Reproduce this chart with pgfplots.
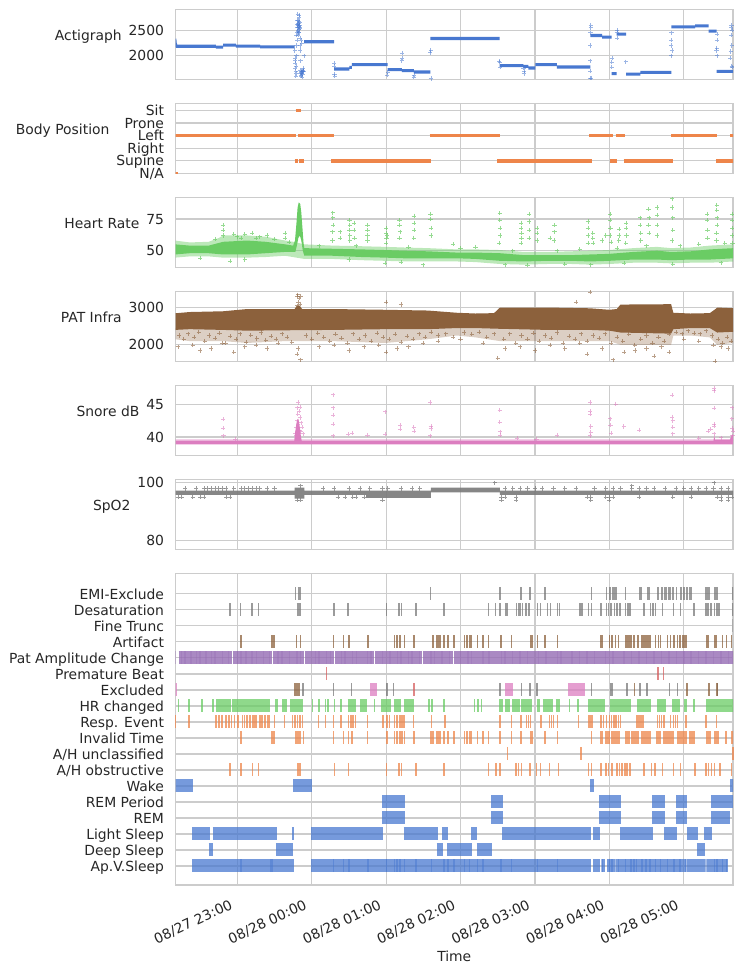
\documentclass[border=0pt]{standalone}
\usepackage{fontspec}
\setmainfont{DejaVu Sans}
\usepackage{pgfplots}
\pgfplotsset{compat=1.18}
\definecolor{cblue}{HTML}{4878D0}
\definecolor{corange}{HTML}{EE854A}
\definecolor{cgreen}{HTML}{6ACC64}
\definecolor{cred}{HTML}{D65F5F}
\definecolor{cpurple}{HTML}{956CB4}
\definecolor{cbrown}{HTML}{8C613C}
\definecolor{cpink}{HTML}{DC7EC0}
\definecolor{cgray}{HTML}{797979}
\definecolor{txt}{HTML}{262626}
\definecolor{gridc}{HTML}{CCCCCC}
\newcommand{\fs}{\fontsize{10}{12}\selectfont}
\pgfplotsset{
 panel/.style={scale only axis, width=401.4pt, height=50.76pt, anchor=south west,
   xmin=-1.831, xmax=5.662, xtick={-1,0,1,2,3,4,5}, xticklabels=\empty,
   grid=major, major grid style={draw=gridc, line width=0.8pt},
   axis line style={draw=gridc, line width=1pt},
   major tick length=0pt, tick style={draw=none},
   tick label style={font=\fs, text=txt},
   yticklabel style={anchor=east, inner sep=0pt, xshift=-8.1pt, text height=0.73em, text depth=0pt},
   every axis y label/.style={at={(axis description cs:0,0.5)}, anchor=south east, inner sep=0pt, text height=0.76em, text depth=0.24em, font=\fs, text=txt},
   every axis x label/.style={at={(axis description cs:0.5,0)}, anchor=center, yshift=-51.5pt, font=\fs, text=txt},
   unbounded coords=jump,
   /pgf/number format/assume math mode=true, /pgf/number format/1000 sep={}},
 lvl/.style={line width=2.2pt, mark=none},
 pts/.style={only marks, mark=+, mark size=1.5pt, mark options={line width=0.4pt}},
 blk/.style={line width=9.4pt, mark=none, opacity=0.75},
 thn/.style={only marks, mark=|, mark size=4.7pt, mark options={line width=1.1pt}, opacity=0.75},
}
\begin{document}
\begin{tikzpicture}
\useasboundingbox (0,0) rectangle (536.4pt,700.56pt);
% ---------------- Actigraph
\begin{axis}[panel, at={(126.36pt,643.1pt)}, ymin=1525, ymax=2910, ytick={2000,2500}, ylabel={Actigraph}, ylabel style={xshift=-38.5pt}]
\addplot[lvl, cblue] coordinates {(-1.84,2330) (-1.835,2250) (-1.825,2195) (-1.815,2184) (-1.289,2184) (0,nan)
(-1.289,2165) (-1.192,2165) (0,nan) (-1.192,2205) (-1.019,2205) (0,nan) (-1.019,2185) (-0.692,2185) (0,nan)
(-0.692,2170) (-0.231,2170) (0,nan) (-0.103,2272) (0.301,2272) (0,nan) (0.301,1737) (0.506,1737) (0,nan)
(0.506,1770) (0.539,1770) (0,nan) (0.539,1822) (1.019,1822) (0,nan) (1.019,1724) (1.212,1724) (0,nan)
(1.212,1704) (1.372,1704) (0,nan) (1.372,1678) (1.596,1678) (0,nan) (1.596,2336) (2.526,2336) (0,nan)
(2.526,1803) (2.846,1803) (0,nan) (2.846,1789) (2.910,1789) (0,nan) (2.910,1757) (3.007,1757) (0,nan)
(3.007,1822) (3.295,1822) (0,nan) (3.295,1776) (3.744,1776) (0,nan) (3.744,2395) (3.904,2395) (0,nan)
(3.904,2362) (4.032,2362) (0,nan) (4.032,1645) (4.097,1645) (0,nan) (4.097,2421) (4.225,2421) (0,nan)
(4.225,1638) (4.417,1638) (0,nan) (4.417,1671) (4.834,1671) (0,nan) (4.834,2566) (5.154,2566) (0,nan)
(5.154,2586) (5.334,2586) (0,nan) (5.334,2480) (5.443,2480) (0,nan) (5.443,1691) (5.674,1691)};
\addplot[pts, cblue, opacity=0.55] coordinates {(-0.228,2100) (-0.226,1950) (-0.222,1850) (-0.22,1760) (-0.216,1700) (-0.212,1650) (-0.208,1800) (-0.204,2000) (-0.2,2300) (-0.198,2450) (-0.194,2550) (-0.19,2600) (-0.186,2620) (-0.184,2500) (-0.18,2560) (-0.178,2640) (-0.176,2580) (-0.174,2520) (-0.172,2600) (-0.17,2680) (-0.168,2800) (-0.166,2760) (-0.164,2650) (-0.162,2600) (-0.16,2540) (-0.158,2200) (-0.155,2100) (-0.152,1900) (-0.15,1720) (-0.146,1680) (-0.142,1600) (-0.138,1700) (-0.134,2250) (-0.13,1650) (-0.126,1580) (-0.122,1700) (-0.118,1690) (-0.114,1720) (-0.11,1700) (-0.106,2000) (-0.196,2700) (-0.19,2820) (-0.17,2450) (-0.16,2350) (-0.14,2300) (-0.12,1750) (-0.21,2400) (-0.205,2200) (-0.185,2700) (-0.175,2450) (-0.18,2400) (-0.15,1650) (-0.145,1620) (-0.135,1660) (-0.125,1640) (-0.215,1600) (-0.22,1900) (-0.165,2550) (-0.19,2480) (-0.195,2620)
(-1.838,2400) (-1.838,1950) (-1.836,2050) (-1.834,2300) (0.300,1850) (0.302,1800) (0.305,1640) (0.308,1600) (1.015,1620) (1.02,1680) (1.21,1900) (1.212,2050) (1.215,1950) (1.37,1580) (1.375,1620) (1.595,2060) (1.598,2100) (1.6,1550) (2.52,1890) (2.525,1870) (2.53,1780) (2.845,1760) (2.85,1700) (2.85,1650) (3.74,1560) (3.742,1700) (3.744,1900) (3.745,2200) (3.746,2450) (3.748,2550) (3.75,2600) (3.755,1560) (4.03,1870) (4.032,1780) (4.035,1950) (4.1,2500) (4.1,2460) (4.102,2340) (4.22,1880) (4.83,2000) (4.832,2200) (4.834,2300) (4.836,2450) (4.84,2100) (5.44,2100) (5.442,2150) (5.444,2300) (5.446,2420) (5.45,2000) (5.62,1950) (5.63,2080) (5.635,2400) (5.64,2550) (5.642,2600) (5.645,1800) (5.644,2200) (5.65,2500) (5.648,1780)};
\end{axis}
% ---------------- Body Position
\begin{axis}[panel, at={(126.36pt,575.42pt)}, ymin=-0.02, ymax=5.56, ytick={0,1,2,3,4,5}, yticklabels={N/A,Supine,Right,Left,Prone,Sit}, ylabel={Body Position}, ylabel style={xshift=-47.4pt}]
\addplot[line width=2.6pt, corange] coordinates {(-1.84,3) (-0.218,3) (0,nan) (-0.186,3) (0.301,3) (0,nan) (1.583,3) (2.526,3) (0,nan) (3.731,3) (4.045,3) (0,nan) (4.084,3) (4.212,3) (0,nan) (4.834,3) (5.443,3) (0,nan) (5.622,3) (5.674,3)};
\addplot[line width=2.6pt, corange] coordinates {(-0.218,5) (-0.147,5)};
\addplot[line width=2.6pt, corange] coordinates {(-0.231,1) (-0.186,1) (0,nan) (-0.173,1) (-0.103,1) (0,nan) (0.263,1) (1.609,1) (0,nan) (2.494,1) (3.763,1) (0,nan) (4.013,1) (4.109,1) (0,nan) (4.193,1) (4.853,1) (0,nan) (5.430,1) (5.674,1)};
\addplot[line width=2.6pt, corange] coordinates {(-1.84,0) (-1.80,0)};
\end{axis}
% ---------------- Heart Rate
\begin{axis}[panel, at={(126.36pt,507.74pt)}, ymin=36.5, ymax=92.1, ytick={50,75}, ylabel={Heart Rate}, ylabel style={xshift=-25.8pt}]
\addplot[fill=cgreen, draw=none, fill opacity=0.45] coordinates {(-1.84,58) (-1.64,56.5) (-1.385,57) (-1.25,60) (-1.19,62) (-0.87,62) (-0.62,61) (-0.36,58) (-0.25,57) (-0.10,55) (0.28,54) (0.67,53.5) (0.99,53) (1.24,52.5) (1.56,52) (1.95,51) (2.2,51) (2.53,50.5) (2.85,49) (3.17,49) (3.49,49.5) (3.74,50) (4.0,50.5) (4.32,52) (4.64,53) (4.83,52) (5.09,52.5) (5.35,54) (5.674,55)
(5.674,41.5) (5.35,40.5) (5.09,40.5) (4.83,40) (4.64,40.5) (4.32,40.5) (4.0,39.5) (3.74,39) (3.49,39.5) (3.17,39.5) (2.85,39) (2.53,39.5) (2.2,41) (1.95,41.5) (1.56,41.5) (1.24,41.5) (0.99,42) (0.67,42.5) (0.28,43.5) (-0.10,43.5) (-0.36,46) (-0.62,45) (-0.87,44.5) (-1.19,44.5) (-1.385,45.5) (-1.64,45.5) (-1.84,44.5)} -- cycle;
\addplot[fill=cgreen, draw=none] coordinates {(-1.84,55) (-1.64,54) (-1.385,54) (-1.19,57) (-0.87,58) (-0.62,57) (-0.36,55) (-0.25,54) (-0.225,58) (-0.205,72) (-0.19,84) (-0.175,88) (-0.155,87) (-0.14,80) (-0.125,68) (-0.11,56) (-0.10,52) (0.28,51.5) (0.67,51) (0.99,50.5) (1.24,50) (1.56,49.5) (1.95,48.5) (2.2,48.5) (2.53,48) (2.85,46.5) (3.17,46.5) (3.49,46.5) (3.74,47) (4.0,47.5) (4.32,49) (4.64,50) (4.83,49) (5.09,49.5) (5.35,51) (5.674,52)
(5.674,44) (5.35,43) (5.09,43) (4.83,42.5) (4.64,43) (4.32,43) (4.0,42) (3.74,41.5) (3.49,42) (3.17,42) (2.85,41.5) (2.53,42) (2.2,43.5) (1.95,44) (1.56,44) (1.24,44) (0.99,44.5) (0.67,45) (0.28,46) (-0.10,46) (-0.12,50) (-0.14,58) (-0.16,62) (-0.18,60) (-0.20,54) (-0.22,49) (-0.36,49) (-0.62,48) (-0.87,47) (-1.19,47) (-1.385,48) (-1.64,48) (-1.84,47)} -- cycle;
\addplot[pts, cgreen, opacity=0.7] coordinates {(-1.84,63) (-1.84,58) (-1.192,70) (-1.192,66) (-1.19,62) (-1.0,61) (-0.9,63) (-0.75,60) (-0.6,62) (-0.359,64) (-0.359,60)
(0.282,80) (0.282,76) (0.285,70) (0.28,65) (0.28,58) (0.378,65) (0.378,60) (0.507,74) (0.51,70) (0.507,66) (0.51,62) (0.51,58) (0.571,72) (0.571,66) (0.575,60) (0.75,70) (0.75,66) (0.75,62) (0.75,58)
(1.0,68) (1.0,64) (1.005,60) (1.01,62) (1.0,56) (1.18,74) (1.18,70) (1.185,65) (1.18,60) (1.372,77.5) (1.372,72) (1.375,66) (1.37,60) (1.596,79) (1.596,75) (1.6,68) (1.6,62) (1.9,55) (2.2,53)
(2.526,79.5) (2.526,74) (2.53,68) (2.53,62) (2.52,56) (2.814,72) (2.814,68) (2.82,64) (2.82,60) (2.81,56) (2.923,78.7) (2.923,73) (2.925,66) (2.92,60) (3.026,68) (3.026,64) (3.03,58) (3.263,70) (3.263,65) (3.26,58) (3.2,60)
(3.712,73) (3.712,68) (3.715,62) (3.71,56) (3.776,64) (3.776,60) (3.78,56) (3.9,58) (3.95,62) (4.013,78.7) (4.013,74) (4.015,68) (4.01,62) (4.02,57) (4.129,67) (4.13,62) (4.125,58) (4.225,72) (4.225,68) (4.23,62) (4.22,56)
(4.417,76) (4.417,70) (4.42,64) (4.42,58) (4.526,82.6) (4.53,76) (4.526,70) (4.53,64) (4.642,84) (4.642,78) (4.645,70) (4.64,62) (4.847,91) (4.847,84) (4.85,76) (4.85,66) (4.845,58)
(5.315,79) (5.315,74) (5.32,66) (5.32,60) (5.443,86) (5.443,82) (5.445,76) (5.45,70) (5.44,64) (5.44,58) (5.648,79) (5.648,74) (5.65,68) (5.65,62) (5.655,56)
(-1.5,44) (-1.1,42) (-0.9,43) (0.5,43) (0.99,40) (1.2,41) (1.5,39) (2.6,39) (2.9,38.5) (3.4,39.5) (3.75,39) (4.2,40) (4.85,39.5) (5.5,40.5)
(-1.3,59) (-1.05,63) (-0.95,60) (-0.8,64) (-0.7,61) (-0.5,59) (-0.3,57) (0.1,54) (0.6,54) (1.3,53) (2.0,52) (2.7,50) (3.3,50) (3.6,51) (4.1,52) (4.5,54) (4.95,54) (5.2,55) (5.55,56)};
\end{axis}
% ---------------- PAT Infra
\begin{axis}[panel, at={(126.36pt,440.06pt)}, ymin=1545, ymax=3436, ytick={2000,3000}, ylabel={PAT Infra}, ylabel style={xshift=-38.5pt}]
\addplot[fill=cbrown, draw=none, fill opacity=0.3] coordinates {(-1.84,2450) (-1.64,2470) (-1.19,2450) (-0.87,2430) (-0.36,2440) (0.28,2450) (0.99,2470) (1.56,2470) (1.95,2500) (2.2,2500) (2.53,2480) (3.17,2450) (3.74,2450) (4.0,2430) (4.15,2380) (4.83,2350) (4.86,2470) (5.09,2500) (5.35,2500) (5.45,2380) (5.674,2400)
(5.674,2050) (5.45,2000) (5.35,2200) (5.09,2250) (4.86,2250) (4.83,2000) (4.15,2000) (4.0,2100) (3.74,2100) (3.17,2100) (2.53,2100) (2.2,2200) (1.95,2250) (1.56,2150) (0.99,2050) (0.28,2100) (-0.36,2100) (-0.87,2050) (-1.19,2100) (-1.64,2100) (-1.84,2150)} -- cycle;
\addplot[fill=cbrown, draw=none] coordinates {(-1.84,2845) (-1.64,2880) (-1.19,2900) (-0.87,2960) (-0.36,2960) (-0.23,2960) (-0.2,3050) (-0.16,3050) (-0.13,2960) (0.28,2960) (0.99,2940) (1.56,2920) (1.95,2860) (2.2,2840) (2.45,2850) (2.53,3000) (3.17,3000) (3.74,2980) (4.0,2940) (4.1,2960) (4.15,3080) (4.83,3090) (4.86,2860) (5.09,2840) (5.35,2850) (5.42,2950) (5.45,3000) (5.674,2980)
(5.674,2350) (5.45,2330) (5.35,2450) (5.09,2450) (4.86,2420) (4.83,2300) (4.15,2330) (4.0,2380) (3.74,2400) (3.17,2400) (2.53,2430) (2.2,2450) (1.95,2450) (1.56,2420) (0.99,2420) (0.28,2400) (-0.36,2390) (-0.87,2380) (-1.19,2400) (-1.64,2420) (-1.84,2400)} -- cycle;
\addplot[pts, cbrown, opacity=0.6] coordinates {(-1.835,3400) (-0.2,3300) (-0.19,3345) (-0.17,3250) (-0.15,3300) (-0.18,3150) (-0.16,3100) (-0.2,3050) (1.0,3150) (1.2,3080) (3.744,3410) (3.55,3150)
(-1.8,1950) (-1.6,2000) (-1.5,1850) (-1.35,1900) (-1.2,2050) (-1.05,1800) (-0.9,1950) (-0.75,2000) (-0.6,1900) (-0.45,2050) (-0.2,1750) (-0.18,1900) (-0.15,1600) (0.1,1950) (0.3,2000) (0.5,1850) (0.7,1950) (0.9,2000) (1.0,1800) (1.15,1900) (1.3,1950) (1.5,2050) (1.7,2100) (2.0,2150) (2.3,2050) (2.5,1650) (2.6,1900) (2.8,1950) (3.0,1850) (3.2,2000) (3.4,1900) (3.6,2050) (3.7,1750) (3.9,1900) (4.05,1600) (4.2,1800) (4.35,1850) (4.5,1900) (4.6,1700) (4.7,1950) (4.8,1800) (5.0,2150) (5.2,2100) (5.4,2000) (5.5,1950) (5.6,1900) (5.42,1570)
(-1.78,2250) (-1.72,2150) (-1.66,2300) (-1.58,2200) (-1.52,2350) (-1.44,2100) (-1.38,2250) (-1.3,2180) (-1.24,2320) (-1.16,2050) (-1.1,2230) (-1.02,2150) (-0.96,2300) (-0.88,2080) (-0.82,2260) (-0.74,2170) (-0.68,2330) (-0.62,2120) (-0.55,2240) (-0.48,2160) (-0.4,2300) (-0.33,2200) (-0.27,2080) (-0.08,2250) (0.0,2150) (0.08,2320) (0.16,2200) (0.24,2100) (0.32,2280) (0.4,2180) (0.48,2050) (0.56,2300) (0.64,2150) (0.72,2250) (0.8,2100) (0.88,2320) (0.96,2200) (1.04,2150) (1.12,2280) (1.2,2080) (1.28,2230) (1.36,2150) (1.44,2300) (1.52,2200) (1.6,2350) (1.7,2250) (1.8,2300) (1.9,2200) (2.05,2330) (2.15,2280) (2.25,2350) (2.35,2200) (2.45,2300) (2.58,2150) (2.66,2300) (2.74,2050) (2.82,2250) (2.9,2150) (2.98,2320) (3.06,2100) (3.14,2250) (3.22,2180) (3.3,2330) (3.38,2050) (3.46,2230) (3.54,2150) (3.62,2300) (3.7,2100) (3.78,2250) (3.86,2180) (3.94,2300) (4.02,2050) (4.1,2200) (4.18,2100) (4.26,2280) (4.34,2000) (4.42,2150) (4.5,2250) (4.58,2050) (4.66,2200) (4.74,2100) (4.8,2280) (4.9,2350) (4.98,2300) (5.06,2380) (5.14,2320) (5.22,2300) (5.3,2380) (5.38,2250) (5.46,2150) (5.52,2050) (5.58,2200) (5.64,2100)};
\end{axis}
% ---------------- Snore dB
\begin{axis}[panel, at={(126.36pt,372.38pt)}, ymin=37.11, ymax=47.94, ytick={40,45}, ylabel={Snore dB}, ylabel style={xshift=-25.8pt}]
\addplot[fill=cpink, draw=none, fill opacity=0.35] coordinates {(-1.84,39.7) (5.674,39.7) (5.674,39.4) (-1.84,39.4)} -- cycle;
\addplot[fill=cpink, draw=none] coordinates {(-1.84,39.45) (-0.235,39.45) (-0.225,40.5) (-0.2,42.5) (-0.18,42.8) (-0.16,41.5) (-0.145,40) (-0.135,39.45) (5.40,39.45) (5.41,40.2) (5.42,39.6) (5.62,39.6) (5.645,40.3) (5.674,40.3) (5.674,38.85) (-1.84,38.85)} -- cycle;
\addplot[pts, cpink, opacity=0.6] coordinates {(-1.84,39.9) (-1.835,40.5) (-1.19,42.7) (-1.19,41.4) (-1.185,40.2) (-1.03,39.7)
(-0.22,40.5) (-0.21,41.5) (-0.2,42.5) (-0.2,44.5) (-0.19,43.5) (-0.18,42) (-0.18,45.3) (-0.17,44) (-0.165,41) (-0.16,43) (-0.155,44.6) (-0.15,40.8) (-0.14,42.2) (-0.13,41.5) (-0.12,40.5) (-0.2,40.8) (-0.19,41.2) (-0.21,40.2) (-0.17,40.3)
(0.29,46.5) (0.29,44.5) (0.29,43.4) (0.285,42) (0.29,40.2) (0.487,40.4) (0.539,40.6) (0.75,40.3) (0.99,43.9) (0.99,40.4) (1.19,41.8) (1.19,41.2) (1.37,41.5) (1.375,40.9)
(1.595,45.3) (1.6,41.7) (1.6,41.3) (1.595,40.2) (2.526,44.1) (2.526,42.3) (2.53,40.8) (2.53,40.3) (2.76,39.8) (3.02,39.7) (3.295,40.3)
(3.745,45.3) (3.745,44) (3.745,43.5) (3.75,41.6) (3.75,40.7) (3.74,40.2) (4.01,42.8) (4.015,41.8) (4.02,40.6) (4.084,45.1) (4.193,41.6) (4.404,41.1)
(4.847,46.4) (4.847,43.1) (4.85,42.5) (4.85,41.5) (4.85,40.5) (5.41,47.45) (5.41,47.1) (5.41,44.4) (5.41,42) (5.405,41.7) (5.41,40.5) (5.36,41.2) (5.33,40.9)
(5.648,44.5) (5.645,42.8) (5.65,41.3) (5.66,40.9) (5.655,40.2) (5.5,39.9) (5.2,39.8)};
\end{axis}
% ---------------- SpO2
\begin{axis}[panel, at={(126.36pt,304.7pt)}, ymin=76.88, ymax=101.18, ytick={80,100}, ylabel={SpO2}, ylabel style={xshift=-32.2pt}]
\addplot[fill=cgray, draw=none, fill opacity=0.9] coordinates {(-1.84,97.3) (-0.23,97.3) (-0.23,98.3) (-0.10,98.3) (-0.10,97.3) (1.6,97.3) (1.6,98.3) (2.53,98.3) (2.53,97.3) (5.674,97.3)
(5.674,95.8) (2.53,95.8) (2.53,96.7) (1.6,96.7) (1.6,94.8) (0.73,94.8) (0.73,95.8) (-0.10,95.8) (-0.10,94.5) (-0.23,94.5) (-0.23,95.8) (-1.84,95.8)} -- cycle;
\addplot[pts, cgray, opacity=0.75] coordinates {(-1.7,98) (-1.55,98) (-1.45,98) (-1.4,98) (-1.35,98) (-1.3,98) (-1.25,98) (-1.2,98) (-1.15,98) (-1.05,98) (-0.95,98) (-0.9,98) (-0.85,98) (-0.8,98) (-0.75,98) (-0.7,98) (-0.6,98) (-0.5,98) (0.15,98) (0.3,98) (0.5,98) (0.65,98) (0.78,98) (0.95,98) (1.02,98) (1.2,98) (1.35,98) (1.45,98) (2.6,98) (2.7,98) (2.8,98) (2.9,98) (3.0,98) (3.1,98) (3.25,98) (3.4,98) (3.55,98) (3.8,98) (3.95,98) (4.05,98) (4.15,98) (4.3,98) (4.4,98) (4.5,98) (4.6,98) (4.75,98) (4.9,98) (5.0,98) (5.1,98) (5.2,98) (5.3,98) (5.4,98) (5.5,98) (5.6,98)
(-1.8,95) (-1.75,95) (-1.6,95) (-1.5,95) (-1.45,95) (-1.15,95) (-1.1,95) (0.35,95) (0.45,95) (0.55,95) (0.6,95) (0.7,95) (2.55,95) (2.6,95) (2.75,95) (3.7,95) (3.75,95) (3.95,95) (4.0,95) (4.05,95) (4.4,95) (4.85,95) (5.1,95) (5.45,95) (5.5,95) (5.6,95) (5.65,95)
(-0.2,94) (-0.15,94) (0.95,94) (2.55,94) (2.75,94) (3.75,94) (4.0,94) (5.5,94) (5.6,94) (-0.15,99) (2.46,100) (5.41,100) (4.3,99)};
\end{axis}
% ---------------- Events
\begin{axis}[panel, at={(126.36pt,63.36pt)}, height=224.42pt, ymin=-1.19, ymax=18.29,
  ytick={0,...,17}, yticklabels={Ap.V.Sleep,Deep Sleep,Light Sleep,REM,REM Period,Wake,A/H obstructive,A/H unclassified,Invalid Time,Resp. Event,HR changed,Excluded,Premature Beat,Pat Amplitude Change,Artifact,Fine Trunc,Desaturation,EMI-Exclude},
  xticklabels={08/27 23:00,08/28 00:00,08/28 01:00,08/28 02:00,08/28 03:00,08/28 04:00,08/28 05:00},
  xticklabel style={xshift=-6pt, yshift=-9.7pt, rotate=25, anchor=north east, inner sep=0pt, text height=0.76em, text depth=0.24em},
  xlabel={Time}]
% EMI-Exclude 17
\addplot[thn, cgray] coordinates {(-0.216,17) (1.595,17) (2.532,17) (2.811,17) (2.932,17) (3.135,17) (3.757,17) (4.216,17) (4.410,17) (4.432,17) (4.856,17) (4.901,17)};
\addplot[blk, cgray] coordinates {(-0.189,17) (-0.149,17) (0,nan) (3.955,17) (3.973,17) (0,nan) (3.991,17) (4.023,17) (0,nan) (4.036,17) (4.059,17) (0,nan) (4.068,17) (4.104,17) (0,nan) (4.509,17) (4.545,17) (0,nan) (4.644,17) (4.667,17) (0,nan) (4.689,17) (4.721,17) (0,nan) (4.739,17) (4.779,17) (0,nan) (4.793,17) (4.824,17) (0,nan) (4.946,17) (4.973,17) (0,nan) (4.986,17) (5.018,17) (0,nan) (5.032,17) (5.059,17) (0,nan) (5.077,17) (5.108,17) (0,nan) (5.284,17) (5.320,17) (0,nan) (5.329,17) (5.347,17) (0,nan) (5.410,17) (5.455,17) (0,nan) (5.644,17) (5.680,17)};
% Desaturation 16
\addplot[thn, cgray] coordinates {(-1.099,16) (-0.959,16) (-0.802,16) (-0.716,16) (0.297,16) (0.486,16) (1.005,16) (1.176,16) (1.207,16) (1.401,16) (1.779,16) (2.378,16) (2.468,16) (2.752,16) (2.779,16) (2.797,16) (2.833,16) (2.878,16) (2.923,16) (3.036,16) (3.077,16) (3.171,16) (3.212,16) (3.306,16) (3.329,16) (3.608,16) (3.631,16) (3.721,16) (3.757,16) (3.887,16) (3.959,16) (3.991,16) (4.023,16) (4.068,16) (4.104,16) (4.140,16) (4.216,16) (4.248,16) (4.275,16) (4.464,16) (4.554,16) (4.590,16) (4.622,16) (4.712,16) (4.860,16) (4.959,16) (5.140,16) (5.297,16) (5.329,16) (5.365,16) (5.410,16) (5.446,16) (5.477,16)};
\addplot[blk, cgray] coordinates {(-0.203,16) (-0.149,16) (0,nan) (2.518,16) (2.550,16) (0,nan) (2.595,16) (2.640,16) (0,nan) (5.644,16) (5.680,16)};
% Fine Trunc 15
\addplot[thn, cgray, opacity=0.4] coordinates {(5.655,15)};
% Artifact 14
\addplot[thn, cbrown] coordinates {(-1.833,14) (-0.950,14) (-0.207,14) (-0.153,14) (0.293,14) (0.428,14) (0.500,14) (0.757,14) (1.113,14) (1.149,14) (1.185,14) (1.248,14) (1.779,14) (1.833,14) (1.914,14) (2.054,14) (2.086,14) (2.122,14) (2.144,14) (2.225,14) (2.302,14) (2.378,14) (2.541,14) (2.685,14) (3.036,14) (3.135,14) (3.306,14) (4.005,14) (4.036,14) (4.081,14) (4.126,14) (4.293,14) (4.329,14) (4.441,14) (4.464,14) (4.491,14) (4.518,14) (4.545,14) (4.622,14) (4.658,14) (4.689,14) (4.779,14) (4.824,14) (4.869,14) (4.914,14) (4.950,14) (4.982,14) (5.005,14) (5.027,14) (5.518,14) (5.577,14) (5.640,14)};
\addplot[blk, cbrown] coordinates {(-0.550,14) (-0.495,14) (0,nan) (1.356,14) (1.383,14) (0,nan) (1.613,14) (1.644,14) (0,nan) (1.667,14) (1.734,14) (0,nan) (2.932,14) (2.977,14) (0,nan) (3.878,14) (3.914,14) (0,nan) (4.216,14) (4.275,14) (0,nan) (4.365,14) (4.396,14) (0,nan) (5.297,14) (5.333,14) (0,nan) (5.410,14) (5.446,14)};
% Pat Amplitude Change 13
\addplot[blk, cpurple, opacity=0.8] coordinates {(-1.788,13) (-1.072,13) (0,nan) (-1.062,13) (-0.532,13) (0,nan) (-0.522,13) (-0.104,13) (0,nan) (-0.094,13) (0.302,13) (0,nan) (0.310,13) (0.631,13) (0,nan) (0.640,13) (0.842,13) (0,nan) (0.850,13) (1.486,13) (0,nan) (1.494,13) (1.905,13) (0,nan) (1.913,13) (2.459,13) (0,nan) (2.467,13) (2.968,13) (0,nan) (2.976,13) (3.856,13) (0,nan) (3.864,13) (4.126,13) (0,nan) (4.134,13) (5.70,13)};
\addplot[thn, cpurple, opacity=0.35] coordinates {(-1.829,13) (-1.75,13) (-1.7,13) (-1.62,13) (-1.55,13) (-1.5,13) (-1.42,13) (-1.35,13) (-1.3,13) (-1.2,13) (-1.12,13) (-1.0,13) (-0.95,13) (-0.88,13) (-0.8,13) (-0.74,13) (-0.65,13) (-0.57,13) (-0.45,13) (-0.4,13) (-0.3,13) (-0.2,13) (-0.15,13) (0.05,13) (0.1,13) (0.2,13) (0.25,13) (0.4,13) (0.45,13) (0.55,13) (0.6,13) (0.75,13) (0.8,13) (0.95,13) (1.05,13) (1.15,13) (1.2,13) (1.3,13) (1.35,13) (1.45,13) (1.6,13) (1.65,13) (1.75,13) (1.85,13) (2.0,13) (2.1,13) (2.15,13) (2.3,13) (2.38,13) (2.55,13) (2.6,13) (2.7,13) (2.8,13) (2.9,13) (3.05,13) (3.15,13) (3.3,13) (3.35,13) (3.5,13) (3.6,13) (3.7,13) (3.8,13) (3.95,13) (4.05,13) (4.2,13) (4.3,13) (4.4,13) (4.5,13) (4.6,13) (4.7,13) (4.8,13) (4.9,13) (5.0,13) (5.1,13) (5.2,13) (5.3,13) (5.4,13) (5.5,13) (5.6,13)};
% Premature Beat 12
\addplot[thn, cred] coordinates {(0.198,12) (4.653,12) (4.725,12)};
% Excluded 11
\addplot[blk, cpink] coordinates {(-1.838,11) (-1.811,11) (0,nan) (0.788,11) (0.878,11) (0,nan) (2.604,11) (2.707,11) (0,nan) (3.441,11) (3.667,11)};
\addplot[thn, cgray] coordinates {(-0.117,11) (0.293,11) (0.532,11) (1.009,11) (1.099,11) (2.532,11) (2.820,11) (2.932,11) (3.027,11) (3.761,11) (4.234,11) (4.410,11) (4.505,11) (4.806,11) (4.914,11) (5.671,11)};
\addplot[blk, cgray] coordinates {(4.005,11) (4.045,11) (0,nan) (5.441,11) (5.459,11)};
\addplot[blk, cbrown] coordinates {(-0.234,11) (-0.155,11)};
\addplot[thn, cbrown] coordinates {(4.338,11) (5.045,11) (5.338,11) (5.450,11)};
\addplot[thn, cred] coordinates {(1.374,11)};
% HR changed 10
\addplot[thn, cgreen] coordinates {(-1.793,10) (-1.653,10) (-1.477,10) (-1.329,10) (0.009,10) (0.095,10) (0.185,10) (0.221,10) (0.306,10) (0.392,10) (0.842,10) (1.577,10) (1.617,10) (1.779,10) (2.189,10) (2.234,10) (2.279,10) (3.464,10) (3.577,10) (5.140,10)};
\addplot[blk, cgreen] coordinates {(-1.284,10) (-1.090,10) (0,nan) (-1.068,10) (-0.563,10) (0,nan) (-0.491,10) (-0.455,10) (0,nan) (-0.396,10) (-0.329,10) (0,nan) (-0.293,10) (-0.113,10) (0,nan) (0.482,10) (0.595,10) (0,nan) (0.644,10) (0.743,10) (0,nan) (0.932,10) (1.059,10) (0,nan) (1.104,10) (1.194,10) (0,nan) (1.239,10) (1.374,10) (0,nan) (2.518,10) (2.572,10) (0,nan) (2.595,10) (2.662,10) (0,nan) (2.698,10) (2.797,10) (0,nan) (2.811,10) (2.955,10) (0,nan) (3.023,10) (3.068,10) (0,nan) (3.104,10) (3.248,10) (0,nan) (3.279,10) (3.338,10) (0,nan) (3.712,10) (3.946,10) (0,nan) (4.005,10) (4.293,10) (0,nan) (4.365,10) (4.554,10) (0,nan) (4.644,10) (4.757,10) (0,nan) (4.842,10) (4.950,10) (0,nan) (5.009,10) (5.050,10) (0,nan) (5.297,10) (5.70,10)};
% Resp. Event 9
\addplot[thn, corange] coordinates {(-1.829,9) (-1.653,9) (-1.284,9) (-1.248,9) (-1.203,9) (-1.149,9) (-1.113,9) (-1.077,9) (-1.036,9) (-0.991,9) (-0.932,9) (-0.901,9) (-0.869,9) (-0.833,9) (-0.698,9) (-0.667,9) (-0.626,9) (-0.500,9) (-0.369,9) (-0.261,9) (-0.225,9) (-0.189,9) (-0.158,9) (-0.122,9) (0.090,9) (0.185,9) (0.293,9) (0.392,9) (0.495,9) (0.527,9) (0.554,9) (0.586,9) (0.752,9) (0.955,9) (1.014,9) (1.045,9) (1.113,9) (1.149,9) (1.185,9) (1.216,9) (1.239,9) (1.365,9) (1.608,9) (1.788,9) (2.527,9) (2.685,9) (2.811,9) (2.887,9) (2.914,9) (2.941,9) (3.081,9) (3.194,9) (3.221,9) (3.248,9) (3.306,9) (3.586,9) (3.721,9) (3.743,9) (3.766,9) (3.887,9) (3.923,9) (3.959,9) (4.000,9) (4.027,9) (4.059,9) (4.090,9) (4.122,9) (4.149,9) (4.374,9) (4.401,9) (4.428,9) (4.455,9) (4.644,9) (4.671,9) (4.698,9) (4.734,9) (4.824,9) (4.860,9) (4.892,9) (4.914,9) (5.027,9) (5.297,9) (5.437,9) (5.671,9)};
\addplot[blk, corange] coordinates {(-0.797,9) (-0.734,9) (0,nan) (-0.595,9) (-0.563,9)};
% Invalid Time 8
\addplot[thn, corange] coordinates {(-1.833,8) (-0.950,8) (-0.113,8) (0.293,8) (0.428,8) (0.495,8) (0.541,8) (0.752,8) (1.009,8) (1.113,8) (1.149,8) (1.185,8) (1.216,8) (1.248,8) (1.779,8) (1.833,8) (1.914,8) (2.054,8) (2.086,8) (2.122,8) (2.144,8) (2.225,8) (2.302,8) (2.378,8) (2.685,8) (2.811,8) (3.135,8) (3.306,8) (3.757,8) (5.568,8)};
\addplot[blk, corange] coordinates {(-0.541,8) (-0.495,8) (0,nan) (-0.221,8) (-0.149,8) (0,nan) (1.356,8) (1.383,8) (0,nan) (1.590,8) (1.644,8) (0,nan) (1.667,8) (1.734,8) (0,nan) (2.518,8) (2.545,8) (0,nan) (2.932,8) (2.977,8) (0,nan) (3.878,8) (3.914,8) (0,nan) (3.946,8) (4.005,8) (0,nan) (4.023,8) (4.149,8) (0,nan) (4.216,8) (4.275,8) (0,nan) (4.293,8) (4.396,8) (0,nan) (4.419,8) (4.554,8) (0,nan) (4.622,8) (4.698,8) (0,nan) (4.725,8) (4.869,8) (0,nan) (4.914,8) (5.050,8) (0,nan) (5.072,8) (5.149,8) (0,nan) (5.297,8) (5.365,8) (0,nan) (5.410,8) (5.468,8) (0,nan) (5.635,8) (5.671,8)};
% A/H unclassified 7
\addplot[thn, corange] coordinates {(2.631,7) (3.617,7) (5.662,7)};
% A/H obstructive 6
\addplot[thn, corange] coordinates {(-1.099,6) (-0.950,6) (-0.793,6) (-0.716,6) (0.306,6) (0.495,6) (1.005,6) (1.171,6) (1.207,6) (1.401,6) (1.779,6) (2.378,6) (2.473,6) (2.527,6) (2.743,6) (2.779,6) (2.820,6) (2.932,6) (3.023,6) (3.077,6) (3.194,6) (3.315,6) (3.721,6) (3.757,6) (3.887,6) (3.955,6) (3.991,6) (4.036,6) (4.104,6) (4.135,6) (4.171,6) (4.207,6) (4.239,6) (4.275,6) (4.464,6) (4.568,6) (4.613,6) (4.716,6) (4.860,6) (4.959,6) (5.149,6) (5.297,6) (5.333,6) (5.374,6) (5.414,6) (5.486,6) (5.644,6)};
\addplot[blk, corange] coordinates {(-0.194,6) (-0.149,6)};
% Sleep stages
\addplot[blk, cblue] coordinates {(-1.84,5) (-1.590,5) (0,nan) (-0.248,5) (0,5) (0,nan) (3.739,5) (3.788,5) (0,nan) (5.622,5) (5.70,5)};
\addplot[blk, cblue] coordinates {(0.950,4) (1.248,4) (0,nan) (2.414,4) (2.572,4) (0,nan) (3.860,4) (4.158,4) (0,nan) (4.577,4) (4.748,4) (0,nan) (4.901,4) (5.050,4) (0,nan) (5.365,4) (5.658,4)};
\addplot[blk, cblue] coordinates {(0.950,3) (1.248,3) (0,nan) (2.414,3) (2.572,3) (0,nan) (3.860,3) (4.158,3) (0,nan) (4.577,3) (4.748,3) (0,nan) (4.901,3) (5.050,3) (0,nan) (5.365,3) (5.626,3)};
\addplot[blk, cblue] coordinates {(-1.604,2) (-1.374,2) (0,nan) (-1.333,2) (-0.473,2) (0,nan) (-0.266,2) (-0.243,2) (0,nan) (-0.005,2) (0.959,2) (0,nan) (1.234,2) (1.694,2) (0,nan) (1.748,2) (1.829,2) (0,nan) (2.144,2) (2.225,2) (0,nan) (2.563,2) (3.752,2) (0,nan) (3.779,2) (3.869,2) (0,nan) (4.144,2) (4.590,2) (0,nan) (4.739,2) (4.914,2) (0,nan) (5.041,2) (5.185,2) (0,nan) (5.266,2) (5.374,2)};
\addplot[blk, cblue] coordinates {(-1.387,1) (-1.324,1) (0,nan) (-0.482,1) (-0.257,1) (0,nan) (1.680,1) (1.761,1) (0,nan) (1.820,1) (2.153,1) (0,nan) (2.216,1) (2.423,1) (0,nan) (5.176,1) (5.279,1)};
\addplot[blk, cblue] coordinates {(-1.604,0) (-0.243,0) (0,nan) (-0.005,0) (3.752,0) (0,nan) (3.779,0) (3.869,0) (0,nan) (3.901,0) (3.942,0) (0,nan) (3.965,0) (4.072,0) (0,nan) (4.095,0) (5.027,0) (0,nan) (5.050,0) (5.287,0) (0,nan) (5.314,0) (5.595,0)};
\addplot[thn, cblue, opacity=0.5] coordinates {(-0.950,0) (-0.550,0) (-0.527,0) (0.293,0) (0.428,0) (0.500,0) (0.757,0) (1.005,0) (1.113,0) (1.149,0) (1.185,0) (1.248,0) (1.401,0) (1.608,0) (1.779,0) (1.833,0) (1.914,0) (2.054,0) (2.122,0) (2.225,0) (2.302,0) (2.541,0) (2.685,0) (3.036,0) (3.306,0) (3.9,0) (4.005,0) (4.036,0) (4.081,0) (4.126,0) (4.216,0) (4.293,0) (4.329,0) (4.365,0) (4.441,0) (4.491,0) (4.545,0) (4.622,0) (4.689,0) (4.779,0) (4.869,0) (4.950,0) (5.027,0) (5.297,0) (5.41,0) (5.446,0) (5.518,0) (5.577,0)};
\end{axis}
\end{tikzpicture}
\end{document}
